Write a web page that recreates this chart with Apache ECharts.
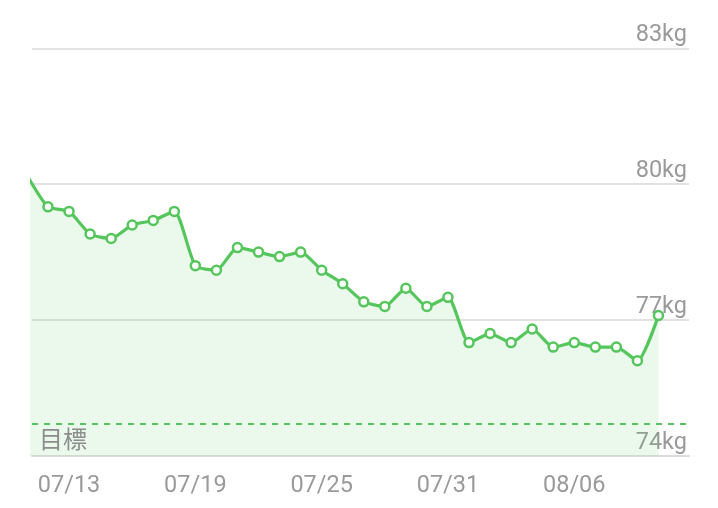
<!DOCTYPE html>
<html>
<head>
<meta charset="utf-8">
<script src="https://cdn.jsdelivr.net/npm/echarts@6/dist/echarts.min.js"></script>
<style>
  html, body { margin: 0; padding: 0; background: #fff; }
  #chart { width: 718px; height: 508px; }
</style>
</head>
<body>
<div id="chart"></div>
<script>
// 日付 (07/11 は左端で切れている)
const dates = [
  '07/11', '07/12', '07/13', '07/14', '07/15', '07/16', '07/17', '07/18',
  '07/19', '07/20', '07/21', '07/22', '07/23', '07/24', '07/25', '07/26',
  '07/27', '07/28', '07/29', '07/30', '07/31', '08/01', '08/02', '08/03',
  '08/04', '08/05', '08/06', '08/07', '08/08', '08/09', '08/10'
]
// 体重 (kg)
const weights = [
  80.2, 79.5, 79.4, 78.9, 78.8, 79.1, 79.2, 79.4,
  78.2, 78.1, 78.6, 78.5, 78.4, 78.5, 78.1, 77.8,
  77.4, 77.3, 77.7, 77.3, 77.5, 76.5, 76.7, 76.5,
  76.8, 76.4, 76.5, 76.4, 76.4, 76.1, 77.1
]
const xTickLabels = ['07/13', '07/19', '07/25', '07/31', '08/06']
const yTicks = [74, 77, 80, 83]
const targetWeight = 74.7
const targetLabel = '目標'

const green = '#55c65c'
const gray = '#9a9a9a'

const chart = echarts.init(document.getElementById('chart'))
const option = {
  animation: false,
  backgroundColor: '#fff',
  grid: { left: 32, right: 29, top: 48.5, bottom: 52.3 },
  xAxis: {
    type: 'value',
    min: 0.24,
    max: 31.45,
    axisLine: { show: true, lineStyle: { color: '#dcdcdc', width: 2 } },
    axisTick: { show: false },
    splitLine: { show: false },
    axisLabel: {
      customValues: xTickLabels.map(d => dates.indexOf(d)),
      formatter: v => dates[Math.round(v)],
      color: gray,
      fontSize: 23.5,
      fontFamily: 'Roboto',
      margin: 18
    }
  },
  yAxis: {
    type: 'value',
    position: 'right',
    min: yTicks[0],
    max: yTicks[yTicks.length - 1],
    interval: 3,
    axisLine: { show: false },
    axisTick: { show: false },
    splitLine: { lineStyle: { color: '#e2e2e2', width: 2 } },
    axisLabel: {
      inside: true,
      align: 'right',
      verticalAlign: 'bottom',
      margin: 2,
      padding: [0, 0, 1, 0],
      color: gray,
      fontSize: 23.5,
      fontFamily: 'Roboto',
      formatter: v => v + 'kg'
    }
  },
  series: [
    {
      type: 'line',
      data: weights.map((w, i) => [i, w]),
      smooth: 0.2,
      clip: true,
      symbol: 'circle',
      symbolSize: 9,
      showAllSymbol: true,
      itemStyle: { color: '#fff', borderColor: green, borderWidth: 2.5 },
      lineStyle: { color: green, width: 3.2 },
      areaStyle: { color: 'rgba(85, 198, 92, 0.17)' },
      markLine: {
        silent: true,
        symbol: 'none',
        lineStyle: { color: green, type: [6, 6], width: 2 },
        label: {
          show: true,
          position: 'insideStartBottom',
          formatter: targetLabel,
          color: '#8c8c8c',
          fontSize: 24,
          fontFamily: 'Noto Sans CJK JP',
          distance: [7, 3]
        },
        data: [{ yAxis: targetWeight }]
      }
    }
  ]
}
chart.setOption(option)
</script>
</body>
</html>
